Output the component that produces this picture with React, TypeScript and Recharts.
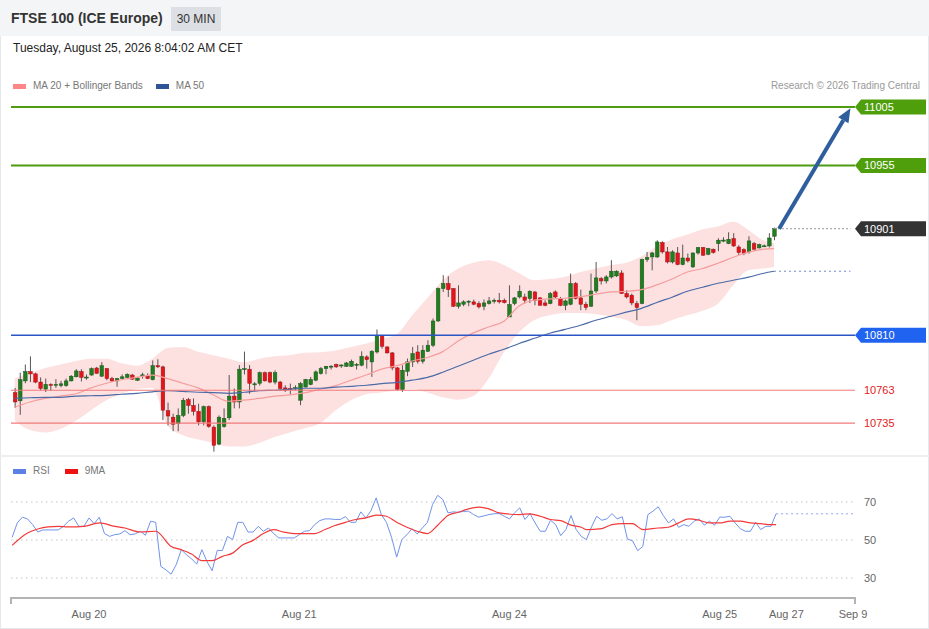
import React from 'react'
import { ComposedChart, Bar, Line, Area, XAxis, YAxis, ReferenceLine } from 'recharts'

const FONT = '"Liberation Sans", Arial, Helvetica, sans-serif'

// 30 min candles, oldest first
const OPEN = [
  10761, 10754, 10771, 10779, 10777, 10770, 10764, 10768, 10767.5, 10767,
  10767, 10771, 10774.5, 10779, 10774, 10776, 10782, 10775, 10781.5, 10773,
  10771, 10773, 10774, 10776, 10771.5, 10776, 10775, 10772, 10784, 10783,
  10745.5, 10740, 10734.5, 10741.5, 10755, 10750, 10745, 10736, 10749, 10731.5,
  10717, 10732, 10739.5, 10758, 10753, 10781, 10781, 10768, 10769, 10778,
  10778, 10770, 10770, 10765, 10764.5, 10765, 10754.5, 10765.8, 10767.9, 10771.6,
  10777.3, 10781.5, 10783.5, 10785, 10784.4, 10783.5, 10783.5, 10785, 10784.4, 10791.5,
  10787.2, 10795.7, 10810, 10800, 10794.9, 10782.1, 10763.6, 10779.2, 10787.2, 10795.7,
  10787.8, 10796.3, 10801.5, 10822.2, 10849.9, 10854.2, 10849.9, 10834.8, 10836.5, 10839,
  10838.5, 10837.1, 10834.8, 10837.1, 10839.5, 10839.9, 10839.9, 10825.6, 10837.1, 10842.7,
  10842.7, 10841.4, 10847, 10841.9, 10837.6, 10837.1, 10847, 10841.4, 10835.6, 10836.5,
  10854.2, 10841.9, 10836.5, 10834.8, 10847.8, 10858.4, 10856.4, 10859.8, 10860.7, 10863.2,
  10845.6, 10844.2, 10837.1, 10837.1, 10874.7, 10876.9, 10876.9, 10889.2, 10881.2, 10872.6,
  10880.3, 10870.4, 10876, 10868.4, 10880.3, 10884.9, 10879.2, 10883.5, 10888.3, 10891.2,
  10888.3, 10892.6, 10885.4, 10883.2, 10881.2, 10888.3, 10884.6, 10886.3, 10886.3, 10894.6,
]
const HIGH = [
  10765, 10778, 10785, 10792, 10778, 10774, 10773, 10769, 10772.5, 10771,
  10773, 10776, 10781, 10781, 10776.5, 10782.5, 10783, 10787, 10782, 10774.5,
  10773.5, 10776.5, 10777.5, 10777, 10774.5, 10778, 10777.5, 10788.5, 10789.5, 10784,
  10752.5, 10743, 10747.5, 10756.5, 10756.5, 10756, 10751.5, 10750, 10750, 10733,
  10741.5, 10747.5, 10776, 10764.5, 10784.5, 10796, 10784.5, 10770, 10779, 10779,
  10779, 10780, 10771, 10767.3, 10768.7, 10767.3, 10770, 10772.7, 10774.4, 10780,
  10782.9, 10783.8, 10784.4, 10785.8, 10785, 10787.2, 10789.2, 10786.3, 10796.3, 10792.9,
  10797.2, 10814.9, 10810, 10800.6, 10795.7, 10782.9, 10784.4, 10790.1, 10800, 10801.5,
  10801.5, 10805.7, 10824.3, 10850.8, 10861.3, 10860.4, 10850.4, 10852.7, 10839.9, 10839.9,
  10840.5, 10839, 10840.5, 10842.7, 10841.4, 10846.1, 10841.4, 10852.7, 10842.7, 10852.7,
  10845.6, 10848.4, 10847.6, 10842.7, 10839.9, 10847, 10848.4, 10842.7, 10840.5, 10862.7,
  10855.5, 10849, 10838.5, 10862.7, 10872.6, 10859.8, 10861.3, 10874.1, 10865.5, 10865.5,
  10848.4, 10845.6, 10839.3, 10875.5, 10881.2, 10881.2, 10891.2, 10890.3, 10885.4, 10882.6,
  10885.4, 10887.5, 10879.8, 10880.7, 10885.4, 10885.4, 10884.6, 10884.1, 10892.9, 10893.7,
  10898, 10897.2, 10886.9, 10884.3, 10894.6, 10889.7, 10888.3, 10887.5, 10897.2, 10902,
]
const LOW = [
  10748, 10742, 10769, 10770, 10769, 10763, 10761.5, 10762.5, 10765, 10765.5,
  10766, 10770.5, 10774, 10770.5, 10772, 10775.5, 10777, 10774.5, 10771.5, 10770,
  10766, 10772.5, 10773, 10772, 10771, 10773, 10772.5, 10771.5, 10782, 10737.5,
  10733, 10728, 10728, 10740, 10743, 10741.5, 10733, 10733, 10731, 10710.5,
  10716, 10731, 10737.5, 10747.5, 10747.5, 10776.5, 10760, 10762, 10767, 10770.5,
  10769, 10768, 10763, 10761.6, 10759.6, 10763, 10750.2, 10765.3, 10767.3, 10770.7,
  10776.4, 10776.7, 10780.7, 10782.1, 10782.1, 10782.9, 10782.9, 10780.7, 10783.5, 10781.5,
  10774.4, 10794.4, 10798.6, 10794.4, 10780.1, 10763, 10761.6, 10775, 10782.9, 10785.8,
  10785.8, 10795.7, 10800, 10821.4, 10847, 10842.7, 10834.2, 10832.8, 10834.8, 10834.8,
  10835.6, 10832.8, 10831.4, 10836.2, 10837.1, 10837.1, 10837.1, 10825.6, 10835.6, 10841.4,
  10837.1, 10837.6, 10835.6, 10835.6, 10834.8, 10836.5, 10841.4, 10834.8, 10831.4, 10835.6,
  10840.5, 10831.4, 10831.4, 10834.2, 10846.1, 10853.3, 10854.2, 10858.4, 10859.8, 10845.6,
  10841.4, 10835.6, 10822.8, 10836.5, 10872.6, 10865.5, 10876, 10879.8, 10871.3, 10871.3,
  10869.8, 10869.8, 10872.1, 10867.5, 10878.9, 10877.8, 10878.4, 10879.8, 10881.8, 10889.5,
  10887.8, 10885.4, 10878.4, 10878.4, 10879.8, 10882.6, 10884.1, 10885.4, 10885, 10891.2,
]
const CLOSE = [
  10753, 10772, 10779, 10777, 10770, 10764.5, 10768, 10767.5, 10768, 10768.5,
  10771, 10775, 10779.5, 10774, 10774.3, 10781.5, 10777.5, 10784, 10773, 10771,
  10773, 10774.5, 10776.5, 10772.5, 10773.5, 10776.2, 10773, 10784, 10783, 10746,
  10741, 10734, 10741.5, 10754.5, 10750, 10745, 10736, 10749, 10732, 10716,
  10740, 10739, 10758, 10753, 10781, 10781.5, 10769, 10768.5, 10778, 10771,
  10770, 10778, 10764.5, 10763, 10764.3, 10765.2, 10768.7, 10772.2, 10772.2, 10778.7,
  10781.5, 10783.5, 10783.6, 10783, 10784.6, 10786.3, 10787.8, 10785.2, 10792, 10789.2,
  10796.3, 10810, 10800.6, 10794.9, 10782.1, 10763.9, 10780.1, 10787.2, 10794.4, 10787.8,
  10797.2, 10801.5, 10822.2, 10849.9, 10854.2, 10849, 10834.8, 10837.6, 10838.5, 10839.1,
  10836.5, 10834.2, 10837.6, 10839.3, 10839.9, 10838.5, 10837.9, 10836.2, 10841.9, 10847.6,
  10839.9, 10847.6, 10839.9, 10835.6, 10835.6, 10845.6, 10842.7, 10835.6, 10839.3, 10854.2,
  10841.4, 10836.5, 10833.7, 10847.8, 10859, 10856.4, 10859.8, 10864.7, 10864.7, 10845.6,
  10842.7, 10837.6, 10833.7, 10874.7, 10876.4, 10880.3, 10889.7, 10881.2, 10872.6, 10881.2,
  10870.4, 10876, 10873.5, 10880.3, 10884.9, 10878.4, 10884.1, 10880.7, 10891.2, 10891.3,
  10892, 10886.3, 10880.7, 10879.8, 10890.6, 10883.5, 10887.5, 10886.4, 10893.1, 10901,
]

// bands and moving averages, read at these candles
const BAND_AT = [
  0, 3, 6, 9, 12, 15, 18, 21, 24, 27, 30, 33, 36, 39, 42, 45, 48, 51, 54, 57,
  60, 63, 66, 69, 72, 75, 78, 81, 84, 87, 90, 93, 96, 99, 102, 105, 108, 111, 114, 117,
  120, 123, 126, 129, 132, 135, 138, 141, 144, 147, 149,
]
const UPPER = [
  10773, 10778, 10782, 10785, 10788, 10790, 10790, 10786, 10784, 10790,
  10799, 10800, 10796, 10793, 10790, 10787, 10790, 10792, 10793, 10795,
  10795.5, 10797, 10800, 10803, 10807, 10811, 10827, 10842, 10857, 10867,
  10872, 10874, 10870, 10863, 10857, 10858, 10860, 10864, 10867, 10870,
  10872, 10877.5, 10886, 10892, 10896, 10900.6, 10903, 10907, 10900, 10891, 10889,
]
const LOWER = [
  10737, 10729, 10727, 10730, 10737, 10746, 10754.5, 10760, 10764, 10765,
  10733, 10724.6, 10721, 10718, 10715, 10715, 10718, 10723, 10727, 10730.5,
  10735, 10746, 10754.5, 10759.6, 10761, 10763, 10764, 10761, 10757, 10755,
  10758, 10773, 10795.5, 10812.6, 10823, 10827, 10829, 10829, 10828, 10826,
  10823, 10817.7, 10818.5, 10823, 10827, 10831, 10837, 10852.7, 10865.5, 10867, 10868,
]
const MA20 = [
  10748.5, 10753, 10756, 10758, 10760, 10765, 10769, 10772, 10774, 10776,
  10773, 10769, 10765, 10759, 10753.6, 10754.5, 10756, 10758, 10759, 10761,
  10764, 10767, 10771.6, 10776, 10781, 10784, 10788, 10791, 10796, 10805,
  10812, 10817, 10822, 10835, 10840, 10841, 10841.6, 10843, 10845, 10847,
  10847.6, 10849, 10853, 10858, 10864, 10867, 10871.5, 10876.6, 10881, 10883.5, 10884,
]
const MA50 = [
  10756, 10756.6, 10757, 10757, 10758, 10758.3, 10758.7, 10759.6, 10760.4, 10761.7,
  10762.6, 10762, 10761.3, 10761, 10760.4, 10761.3, 10762.6, 10763, 10763.9, 10764.7,
  10764.7, 10765.6, 10766.4, 10767.3, 10768.6, 10769.8, 10771.6, 10774, 10778.4, 10783.5,
  10788.6, 10793.8, 10798, 10803, 10807.4, 10811.7, 10815, 10818.5, 10822.8, 10826.2,
  10829.7, 10833, 10838, 10842.5, 10847.6, 10851, 10854.4, 10857, 10859.6, 10863, 10864.7,
]

const RSI = [
  51.4, 59, 62, 61.1, 58.1, 54.2, 55.3, 55.3, 55.3, 55.3,
  57.2, 59.9, 61.6, 57.2, 57.2, 61.6, 58.6, 62, 53.4, 51.9,
  52.8, 53.2, 54.9, 52.8, 53.2, 54.6, 52.5, 59.9, 59.3, 36.1,
  34.3, 32, 37, 44.9, 42.2, 40.1, 37.3, 44.9, 38.7, 33.8,
  44.5, 44.5, 51.9, 50.2, 59.3, 59.3, 54.2, 54.2, 57.2, 54.6,
  56.3, 53.4, 51.1, 51.1, 51.1, 51.1, 52.8, 54.6, 54.9, 58.1,
  60.2, 61.1, 61.1, 60.8, 60.8, 62.3, 59.3, 59.3, 64.8, 61.6,
  65.5, 72.2, 63.4, 59.3, 51.4, 41, 50.2, 52.8, 56, 53.2,
  56.3, 59.3, 68.7, 73.5, 71.3, 64.3, 64.8, 64.6, 65, 65.2,
  63.4, 62, 62.7, 63.4, 63.8, 63.9, 62.5, 61.1, 64.3, 66.9,
  60.8, 63.9, 59, 54.6, 54.6, 60.4, 58.1, 52.3, 55.5, 62.9,
  55.5, 51.9, 50.2, 56.9, 62.5, 60.4, 61.1, 63.9, 61.1, 62.2,
  50.5, 49.6, 44.4, 46.6, 63.4, 65.2, 67.5, 62.9, 59, 61.1,
  56.7, 58.1, 57.2, 59.9, 61.1, 57.8, 59.9, 57.8, 62, 62,
  62.5, 59, 56, 54.6, 54.6, 59.3, 55.5, 57.2, 57.2, 63.8,
]
const RSI_MA_AT = [
  0, 3, 5, 7, 9, 11, 14, 17, 20, 22, 25, 28, 31, 33, 35, 37, 39, 41, 43, 45,
  47, 49, 51, 53, 55, 57, 59, 61, 63, 65, 67, 69, 71, 73, 75, 77, 79, 81, 83, 85,
  87, 89, 91, 93, 95, 99, 101, 103, 105, 107, 109, 111, 112, 115, 117, 119, 121, 123, 126, 128,
  130, 132, 134, 136, 138, 140, 142, 144, 146, 148, 149,
]
const RSI_MA = [
  47.2, 53.7, 55.8, 56.9, 57.2, 56.9, 57.2, 59, 57.2, 56.3, 54.2, 54.6, 46.6, 44.9, 42.6, 39.1, 39.1, 41.4, 43.1, 47.5,
  49.8, 53.4, 55.5, 54.1, 53.4, 53.4, 53.4, 55.5, 57.6, 59.3, 60.8, 61.6, 63.1, 62.5, 59.3, 56.7, 54.6, 53.4, 57.8, 62.9,
  64.6, 66.4, 67.3, 66.4, 64.3, 63.4, 63.8, 62.5, 60.8, 60.2, 57.8, 56.7, 55.5, 56, 58.1, 58.6, 58.6, 55.5, 56.3, 56.7,
  59, 61.1, 60.4, 59, 59, 59.9, 59.9, 59, 58.6, 58.1, 58.1,
]

const RESIST = [11005, 10955]
const PIVOT = 10810
const SUPPORT = [10763, 10735]
const LAST = 10901
const TARGET = 11004
const SLOTS = 165 // candles plus empty slots to the right
const TICK_AT = [15, 56, 97, 138, 151, 164]
const TICK_TEXT = ['Aug 20', 'Aug 21', 'Aug 24', 'Aug 25', 'Aug 27', 'Sep 9']
const RSI_LEVELS = [70, 50, 30]

const rows = Array.from({ length: SLOTS }, (_, i) => {
  const live = i < CLOSE.length
  const b = BAND_AT.indexOf(i)
  const m = RSI_MA_AT.indexOf(i)
  return {
    i,
    o: live ? OPEN[i] : null,
    h: live ? HIGH[i] : null,
    l: live ? LOW[i] : null,
    c: live ? CLOSE[i] : null,
    hl: live ? [LOW[i], HIGH[i]] : null,
    band: b >= 0 ? [LOWER[b], UPPER[b]] : null,
    ma20: b >= 0 ? MA20[b] : null,
    ma50: b >= 0 ? MA50[b] : null,
    rsi: live ? RSI[i] : null,
    rsiMa: m >= 0 ? RSI_MA[m] : null,
  }
})

const lastIdx = CLOSE.length - 1
const X_PAD = { left: 1.15, right: 2 }
const MARGIN = { top: 0, right: 74, bottom: 0, left: 11 }

const Candle = (props: any) => {
  const { x, y, width, height, payload } = props
  if (payload.o == null || !height) return null
  const { o, h, l, c } = payload
  const k = height / (h - l)
  const cx = x + width / 2
  const yo = y + (h - o) * k
  const yc = y + (h - c) * k
  const up = c >= o
  const top = Math.min(yo, yc)
  const bh = Math.max(Math.abs(yc - yo), 1)
  return (
    <g>
      <line x1={cx} x2={cx} y1={y} y2={y + height} stroke="#5b5454" strokeWidth={1} />
      <rect x={cx - 1.8} y={top} width={3.6} height={bh}
        fill={up ? '#217d1f' : '#e4141b'} stroke={up ? '#16561a' : '#9d1216'} strokeWidth={0.5} />
    </g>
  )
}

const tag = (text: string, fill: string) => (p: any) => {
  const x = p.viewBox.x + p.viewBox.width
  const y = p.viewBox.y
  return (
    <g>
      <polygon fill={fill}
        points={`${x},${y} ${x + 6},${y - 7.5} ${x + 71},${y - 7.5} ${x + 71},${y + 7.5} ${x + 6},${y + 7.5}`} />
      <text x={x + 9} y={y} dy="0.36em" fill="#fff" fontSize={11} fontFamily={FONT}>{text}</text>
    </g>
  )
}

const sideText = (text: string, color: string) => (p: any) => (
  <text x={p.viewBox.x + p.viewBox.width + 9} y={p.viewBox.y} dy="0.36em"
    fill={color} fontSize={11} fontFamily={FONT}>{text}</text>
)

const Arrow = (p: any) => {
  const { x1, y1, x2, y2 } = p
  const a = Math.atan2(y2 - y1, x2 - x1)
  const bx = x2 - 14 * Math.cos(a)
  const by = y2 - 14 * Math.sin(a)
  const w = 6
  return (
    <g>
      <line x1={x1} y1={y1} x2={bx} y2={by} stroke="#2f5e9e" strokeWidth={4} />
      <polygon fill="#2f5e9e"
        points={`${x2},${y2} ${bx + w * Math.sin(a)},${by - w * Math.cos(a)} ${bx - w * Math.sin(a)},${by + w * Math.cos(a)}`} />
    </g>
  )
}

const Swatch = ({ color }: { color: string }) => (
  <span style={{ display: 'inline-block', width: 13, height: 5, background: color, marginRight: 7, verticalAlign: 'middle' }} />
)

export default function App() {
  return (
    <div style={{ position: 'absolute', left: 0, top: 0, width: 929, height: 629, background: '#fff', fontFamily: FONT, overflow: 'hidden' }}>
      <div style={{ position: 'absolute', inset: 0, border: '1px solid #e6e8eb', boxSizing: 'border-box', pointerEvents: 'none' }} />
      <div style={{ position: 'absolute', left: 0, top: 0, width: 929, height: 36, background: '#f4f5f6' }} />
      <div style={{ position: 'absolute', left: 11, top: 10, fontSize: 14, fontWeight: 700, color: '#333' }}>FTSE 100 (ICE Europe)</div>
      <div style={{ position: 'absolute', left: 171, top: 7, width: 50, height: 24, lineHeight: '24px', background: '#dcdfe3', fontSize: 12, color: '#333', textAlign: 'center' }}>30 MIN</div>
      <div style={{ position: 'absolute', left: 13, top: 41, fontSize: 12, color: '#222' }}>Tuesday, August 25, 2026 8:04:02 AM CET</div>

      <div style={{ position: 'absolute', left: 13, top: 80, fontSize: 10, color: '#777', lineHeight: '12px' }}>
        <Swatch color="#ff8686" />MA 20 + Bollinger Bands
        <span style={{ display: 'inline-block', width: 13 }} />
        <Swatch color="#2f5596" />MA 50
      </div>
      <div style={{ position: 'absolute', right: 9, top: 80, fontSize: 10, color: '#999', lineHeight: '12px' }}>Research © 2026 Trading Central</div>

      <div style={{ position: 'absolute', left: 0, top: 96 }}>
        <ComposedChart width={929} height={357} data={rows} margin={MARGIN}>
          <XAxis dataKey="i" type="category" hide padding={X_PAD} />
          <YAxis hide domain={[10709.4, 11014.4]} allowDataOverflow />
          <Area dataKey="band" type="monotone" connectNulls stroke="none" fill="#fde1e1" fillOpacity={1} isAnimationActive={false} />
          <Line dataKey="ma20" type="monotone" connectNulls dot={false} stroke="#f59c9c" strokeWidth={1.2} isAnimationActive={false} />
          <Line dataKey="ma50" type="monotone" connectNulls dot={false} stroke="#4b6aa6" strokeWidth={1.2} isAnimationActive={false} />
          {RESIST.map((v) => (
            <ReferenceLine key={v} y={v} stroke="#4f9c10" strokeWidth={2} label={tag(String(v), '#4f9e0c')} />
          ))}
          <ReferenceLine y={PIVOT} stroke="#2a55c4" strokeWidth={1.3} label={tag(String(PIVOT), '#1f63f0')} />
          {SUPPORT.map((v) => (
            <ReferenceLine key={v} y={v} stroke="#f27a7a" strokeWidth={1.2} label={sideText(String(v), '#e3191c')} />
          ))}
          <ReferenceLine segment={[{ x: lastIdx, y: LAST }, { x: SLOTS - 1, y: LAST }]} stroke="#999" strokeDasharray="2 2" />
          <ReferenceLine y={LAST} stroke="none" label={tag(String(LAST), '#333333')} />
          <ReferenceLine segment={[{ x: lastIdx, y: MA50[MA50.length - 1] }, { x: SLOTS - 1, y: MA50[MA50.length - 1] }]}
            stroke="#6e8cc8" strokeDasharray="2 3" />
          <Bar dataKey="hl" barSize={4} shape={Candle} isAnimationActive={false} />
          <ReferenceLine segment={[{ x: lastIdx + 1, y: LAST }, { x: SLOTS - 1, y: TARGET }]} shape={Arrow} />
        </ComposedChart>
      </div>

      <div style={{ position: 'absolute', left: 0, top: 455, width: 929, height: 2, background: '#eceef0' }} />
      <div style={{ position: 'absolute', left: 13, top: 465, fontSize: 10, color: '#777', lineHeight: '12px' }}>
        <Swatch color="#5b80e6" />RSI
        <span style={{ display: 'inline-block', width: 15 }} />
        <Swatch color="#ee1111" />9MA
      </div>

      <div style={{ position: 'absolute', left: 0, top: 470 }}>
        <ComposedChart width={929} height={159} data={rows} margin={{ ...MARGIN, top: 13, bottom: 1 }}>
          <XAxis dataKey="i" type="category" padding={X_PAD} ticks={TICK_AT} interval={0}
            tickFormatter={(v) => TICK_TEXT[TICK_AT.indexOf(v)] ?? ''} height={30}
            axisLine={{ stroke: '#b3b3b3', strokeWidth: 2 }} tickLine={false} tickMargin={6}
            tick={{ fill: '#666', fontSize: 11, fontFamily: FONT }} />
          <YAxis hide domain={[19.47, 80]} allowDataOverflow />
          {RSI_LEVELS.map((v) => (
            <ReferenceLine key={v} y={v} stroke="#c4c4c4" strokeDasharray="1.5 3.5" label={sideText(String(v), '#666')} />
          ))}
          <ReferenceLine segment={[{ x: lastIdx, y: RSI[lastIdx] }, { x: SLOTS - 1, y: RSI[lastIdx] }]}
            stroke="#8ea8f0" strokeDasharray="2 3" />
          <Line dataKey="rsi" type="linear" dot={false} stroke="#7093ea" strokeWidth={1} isAnimationActive={false} />
          <Line dataKey="rsiMa" type="monotone" connectNulls dot={false} stroke="#f23a3a" strokeWidth={1.2} isAnimationActive={false} />
        </ComposedChart>
      </div>
      <div style={{ position: 'absolute', left: 10, top: 597, width: 2, height: 7, background: '#b3b3b3' }} />
      <div style={{ position: 'absolute', left: 854, top: 597, width: 2, height: 7, background: '#b3b3b3' }} />
    </div>
  )
}
